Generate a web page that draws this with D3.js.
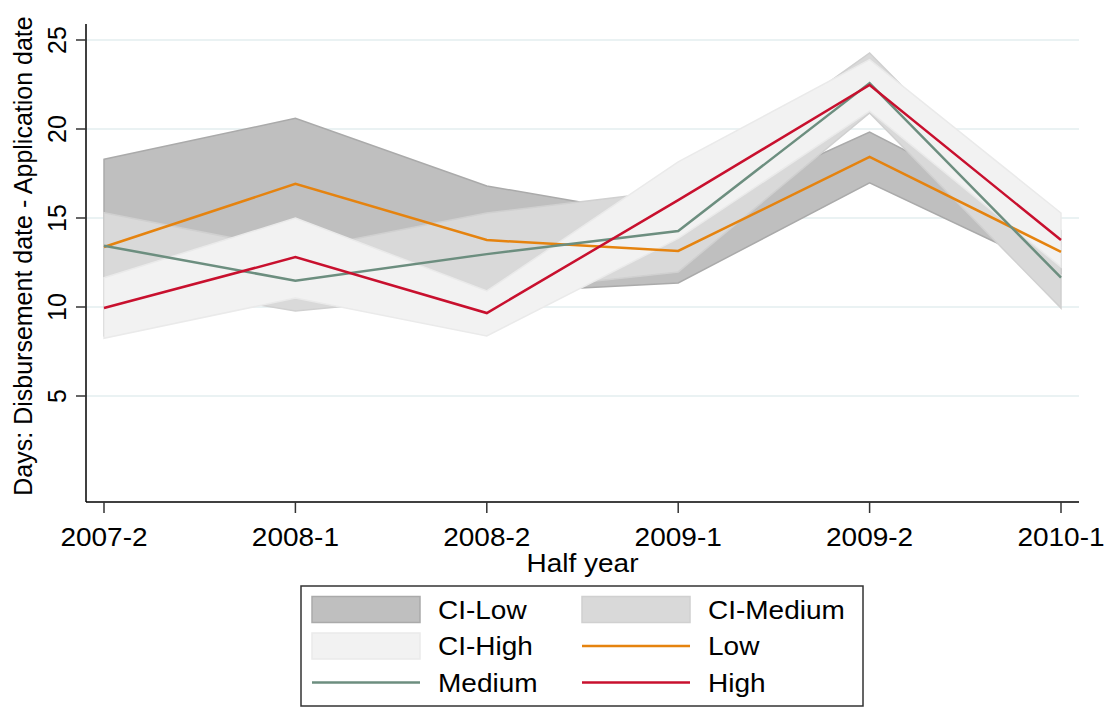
<!DOCTYPE html>
<html>
<head>
<meta charset="utf-8">
<script src="https://cdn.jsdelivr.net/npm/d3@7"></script>
<style>
  body { margin: 0; background: #fff; }
  text { font-family: "Liberation Sans", Arial, sans-serif; fill: #000; }
</style>
</head>
<body>
<script>
var categories = ["2007-2", "2008-1", "2008-2", "2009-1", "2009-2", "2010-1"];

// mean lines
var lowVals = [13.37, 16.92, 13.76, 13.15, 18.43, 13.1];
var mediumVals = [13.44, 11.48, 12.97, 14.27, 22.58, 11.65];
var highVals = [9.94, 12.8, 9.66, 16.0, 22.47, 13.76];

// confidence bands (lower / upper)
var ciLowLo = [8.4, 13.2, 10.8, 11.35, 16.97, 11.9];
var ciLowHi = [18.3, 20.6, 16.8, 14.95, 19.83, 14.3];
var ciMedLo = [11.6, 9.78, 10.8, 11.97, 20.9, 9.94];
var ciMedHi = [15.3, 13.18, 15.28, 16.57, 24.27, 13.36];
var ciHighLo = [8.24, 10.5, 8.37, 13.85, 21.0, 12.25];
var ciHighHi = [11.64, 15.0, 10.9, 18.15, 23.9, 15.28];

var yTicks = [5, 10, 15, 20, 25];

var W = 1109, H = 707;
var plotLeft = 86, plotRight = 1079, plotTop = 24, plotBottom = 502;
var stretch = 1.12; // the original text is a bit wider than Arial

var svg = d3.select("body").append("svg").attr("width", W).attr("height", H);

var x = d3.scalePoint().domain(categories).range([104, 1061]);
var y = d3.scaleLinear().domain([0, 25]).range([485, 40]);

// horizontal text, stretched a little in x
function hText(sel, px, py, str, anchor) {
    var g = sel.append("g").attr("transform", "translate(" + px + "," + py + ") scale(" + stretch + ",1)");
    g.append("text")
        .attr("text-anchor", anchor || "start")
        .style("font-size", "25px")
        .text(str);
    return g;
}

// gridlines
svg.append("g").selectAll("line")
    .data(yTicks)
    .enter().append("line")
    .attr("x1", plotLeft).attr("x2", plotRight)
    .attr("y1", function (d) { return y(d); })
    .attr("y2", function (d) { return y(d); })
    .attr("stroke", "#eaf2f3")
    .attr("stroke-width", 2);

var bands = [
    { lo: ciLowLo, hi: ciLowHi, fill: "#bfbfbf", stroke: "#aaaaaa", name: "CI-Low" },
    { lo: ciMedLo, hi: ciMedHi, fill: "#d9d9d9", stroke: "#d0d0d0", name: "CI-Medium" },
    { lo: ciHighLo, hi: ciHighHi, fill: "#f2f2f2", stroke: "#eaeaea", name: "CI-High" }
];
var lines = [
    { vals: lowVals, color: "#e5830f", name: "Low" },
    { vals: mediumVals, color: "#6c8e7f", name: "Medium" },
    { vals: highVals, color: "#c8102e", name: "High" }
];

var area = d3.area()
    .x(function (d, i) { return x(categories[i]); })
    .y0(function (d) { return y(d[0]); })
    .y1(function (d) { return y(d[1]); });

var line = d3.line()
    .x(function (d, i) { return x(categories[i]); })
    .y(function (d) { return y(d); });

bands.forEach(function (b) {
    var pts = b.lo.map(function (v, i) { return [v, b.hi[i]]; });
    svg.append("path")
        .attr("d", area(pts))
        .attr("fill", b.fill)
        .attr("stroke", b.stroke)
        .attr("stroke-width", 1.5)
        .attr("stroke-linejoin", "miter");
});

lines.forEach(function (l) {
    svg.append("path")
        .attr("d", line(l.vals))
        .attr("fill", "none")
        .attr("stroke", l.color)
        .attr("stroke-width", 2.5);
});

// axes
var yAxis = svg.append("g");
yAxis.append("line")
    .attr("x1", plotLeft).attr("x2", plotLeft)
    .attr("y1", plotTop).attr("y2", plotBottom)
    .attr("stroke", "#000").attr("stroke-width", 1.5);
yAxis.selectAll("line.tick")
    .data(yTicks)
    .enter().append("line")
    .attr("class", "tick")
    .attr("x1", plotLeft - 10).attr("x2", plotLeft)
    .attr("y1", function (d) { return y(d); })
    .attr("y2", function (d) { return y(d); })
    .attr("stroke", "#333").attr("stroke-width", 1.5);
yAxis.selectAll("text")
    .data(yTicks)
    .enter().append("text")
    .attr("transform", function (d) { return "translate(66," + y(d) + ") rotate(-90)"; })
    .attr("text-anchor", "middle")
    .style("font-size", "25px")
    .text(function (d) { return d; });

var xAxis = svg.append("g");
xAxis.append("line")
    .attr("x1", plotLeft).attr("x2", plotRight)
    .attr("y1", plotBottom).attr("y2", plotBottom)
    .attr("stroke", "#000").attr("stroke-width", 1.5);
xAxis.selectAll("line.tick")
    .data(categories)
    .enter().append("line")
    .attr("class", "tick")
    .attr("x1", function (d) { return x(d); })
    .attr("x2", function (d) { return x(d); })
    .attr("y1", plotBottom).attr("y2", plotBottom + 11)
    .attr("stroke", "#333").attr("stroke-width", 1.5);
categories.forEach(function (c) {
    hText(xAxis, x(c), 546, c, "middle");
});

// titles
hText(svg, (plotLeft + plotRight) / 2, 572, "Half year", "middle");
svg.append("text")
    .attr("transform", "translate(32,256) rotate(-90)")
    .attr("text-anchor", "middle")
    .style("font-size", "25px")
    .text("Days: Disbursement date - Application date");

// legend
var legend = svg.append("g");
legend.append("rect")
    .attr("x", 301).attr("y", 586)
    .attr("width", 562).attr("height", 120)
    .attr("fill", "#fff")
    .attr("stroke", "#333").attr("stroke-width", 1.5);

var legendItems = [
    { kind: "band", d: bands[0] }, { kind: "band", d: bands[1] },
    { kind: "band", d: bands[2] }, { kind: "line", d: lines[0] },
    { kind: "line", d: lines[1] }, { kind: "line", d: lines[2] }
];
var colX = [312, 582], rowY = [609.5, 646, 682.5];

legendItems.forEach(function (it, i) {
    var cx = colX[i % 2], cy = rowY[Math.floor(i / 2)];
    if (it.kind === "band") {
        legend.append("rect")
            .attr("x", cx).attr("y", cy - 13)
            .attr("width", 108).attr("height", 26)
            .attr("fill", it.d.fill)
            .attr("stroke", it.d.stroke).attr("stroke-width", 1.5);
    } else {
        legend.append("line")
            .attr("x1", cx).attr("x2", cx + 108)
            .attr("y1", cy).attr("y2", cy)
            .attr("stroke", it.d.color).attr("stroke-width", 2.5);
    }
    hText(legend, cx + 126, cy + 9, it.d.name, "start");
});
</script>
</body>
</html>
